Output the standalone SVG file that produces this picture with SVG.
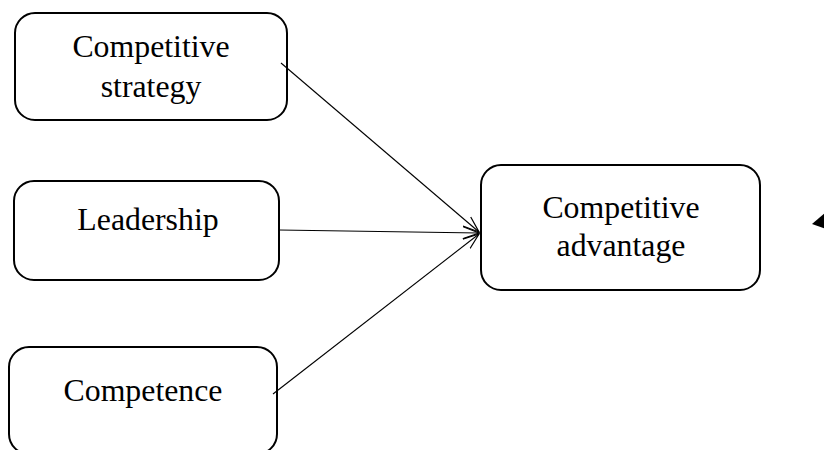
<svg xmlns="http://www.w3.org/2000/svg" width="824" height="450" viewBox="0 0 824 450">
<style>
.box{fill:#fff;stroke:#000;stroke-width:2}
.lbl{font-family:"Liberation Serif","Times New Roman",serif;font-size:31.8px;fill:#000;text-anchor:middle}
.con{stroke:#000;stroke-width:1.1;fill:none}
</style>
<defs>
<marker id="arr" markerUnits="userSpaceOnUse" markerWidth="18" markerHeight="14" refX="16" refY="7" orient="auto">
<path d="M0,1 L16,7 L0,13" fill="none" stroke="#000" stroke-width="1.2"/>
</marker>
</defs>
<rect width="824" height="450" fill="#fff"/>
<g id="competitive-strategy">
<rect class="box" x="15" y="13" width="272" height="107" rx="20" ry="20"/>
<text class="lbl" x="151" y="57">Competitive</text>
<text class="lbl" x="151" y="97">strategy</text>
</g>
<g id="leadership">
<rect class="box" x="14" y="181" width="265" height="99" rx="20" ry="20"/>
<text class="lbl" x="148" y="230">Leadership</text>
</g>
<g id="competence">
<rect class="box" x="9" y="347" width="268" height="107" rx="20" ry="20"/>
<text class="lbl" x="143" y="401">Competence</text>
</g>
<g id="competitive-advantage">
<rect class="box" x="481" y="165" width="279" height="125" rx="20" ry="20"/>
<text class="lbl" x="621" y="218">Competitive</text>
<text class="lbl" x="621" y="256">advantage</text>
</g>
<g id="connectors">
<line class="con" x1="281" y1="63" x2="479" y2="232" marker-end="url(#arr)"/>
<line class="con" x1="279" y1="230" x2="479" y2="233" marker-end="url(#arr)"/>
<line class="con" x1="273" y1="394" x2="479" y2="234" marker-end="url(#arr)"/>
<polygon points="812,224 826,212 826,229" fill="#000"/>
</g>
</svg>
